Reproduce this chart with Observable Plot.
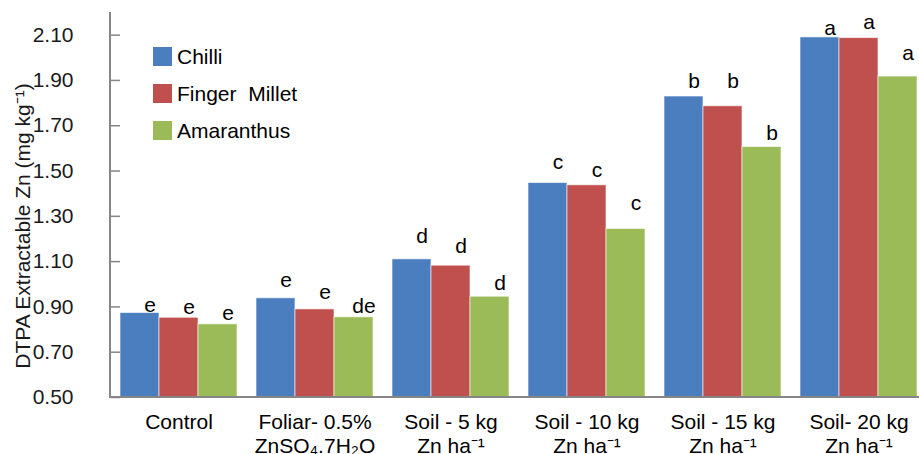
<!DOCTYPE html>
<html>
<head>
<meta charset="utf-8">
<script src="https://cdn.jsdelivr.net/npm/d3@7"></script>
<script src="https://cdn.jsdelivr.net/npm/@observablehq/plot@0.6"></script>
<style>
  html, body { margin: 0; padding: 0; background: #fff; }
  #wrap { position: relative; width: 919px; height: 454px; overflow: hidden; font-family: "Liberation Sans", Arial, sans-serif; }
  #legend { position: absolute; left: 153px; top: 38px; font-size: 21px; color: #000; }
  #legend .row { display: flex; align-items: center; height: 37px; }
  #legend .sw { width: 19px; height: 19px; margin-right: 5px; }
  #ylab { position: absolute; left: 22px; top: 226px; transform: translate(-50%, -50%) rotate(-90deg); white-space: nowrap; font-size: 21px; color: #1a1a1a; }
</style>
</head>
<body>
<div id="wrap"></div>
<script>
const groups = ["Control", "Foliar", "Soil5", "Soil10", "Soil15", "Soil20"];
const groupLabels = ["Control", "Foliar- 0.5%\nZnSO₄.7H₂O", "Soil - 5 kg\nZn ha⁻¹", "Soil - 10 kg\nZn ha⁻¹", "Soil - 15 kg\nZn ha⁻¹", "Soil- 20 kg\nZn ha⁻¹"];
const series = ["Chilli", "Finger Millet", "Amaranthus"];
const colors = ["#4A7EBF", "#C0504D", "#9BBB59"];

const chilli       = [0.873, 0.938, 1.110, 1.447, 1.829, 2.090];
const fingerMillet = [0.852, 0.889, 1.082, 1.437, 1.786, 2.087];
const amaranthus   = [0.823, 0.854, 0.945, 1.244, 1.606, 1.917];

// letters of significance and the heights they sit at (mean + SE)
const lettersChilli       = ["e", "e", "d", "c", "b", "a"];
const lettersFingerMillet = ["e", "e", "d", "c", "b", "a"];
const lettersAmaranthus   = ["e", "de", "d", "c", "b", "a"];
const topChilli       = [0.907, 1.017, 1.212, 1.539, 1.897, 2.131];
const topFingerMillet = [0.899, 0.965, 1.167, 1.503, 1.897, 2.157];
const topAmaranthus   = [0.871, 0.902, 1.004, 1.357, 1.667, 2.020];

const yTicks = [0.5, 0.7, 0.9, 1.1, 1.3, 1.5, 1.7, 1.9, 2.1];
const yLabel = "DTPA Extractable Zn (mg kg⁻¹)";

const valuesBySeries = [chilli, fingerMillet, amaranthus];
const lettersBySeries = [lettersChilli, lettersFingerMillet, lettersAmaranthus];
const topsBySeries = [topChilli, topFingerMillet, topAmaranthus];

const rows = [];
groups.forEach((g, gi) => {
  series.forEach((s, si) => {
    rows.push({group: g, series: s, value: valuesBySeries[si][gi], letter: lettersBySeries[si][gi], top: topsBySeries[si][gi]});
  });
});

const labelOf = new Map(groups.map((g, i) => [g, groupLabels[i]]));
const W = 919, H = 454;

const chart = Plot.plot({
  width: W,
  height: H,
  marginLeft: 110,
  marginRight: 0,
  marginTop: 12,
  marginBottom: 57,
  style: {fontFamily: "'Liberation Sans', Arial, sans-serif", fontSize: "21px", background: "#fff", overflow: "visible"},
  fx: {domain: groups, range: [109.4, 926.6], paddingInner: 0.14, paddingOuter: 0.07, label: null, axis: null},
  x: {domain: series, padding: 0, axis: null},
  y: {domain: [0.5, 2.2], label: null},
  color: {domain: series, range: colors},
  marks: [
    Plot.barY(rows, {fx: "group", x: "series", y1: 0.5, y2: "value", fill: "series", stroke: "#fff", strokeOpacity: 0.6, strokeWidth: 1}),
    Plot.text(rows, {fx: "group", x: "series", y: "top", text: "letter", dx: 10, fontSize: 21, fill: "#000", lineAnchor: "middle"}),
    Plot.axisY({ticks: yTicks, tickSize: 9, text: null, stroke: "#868686", strokeWidth: 1.5, label: null}),
    Plot.axisY({ticks: yTicks, tickFormat: d => d.toFixed(2), tickSize: 0, fill: "#1a1a1a", fontSize: 21, label: null}),
    Plot.axisFx({anchor: "bottom", tickFormat: d => labelOf.get(d), tickSize: 0, tickPadding: 15, fontSize: 21, fill: "#000", lineHeight: 1.12, label: null})
  ]
});

// axis lines through the library's scales
const ys = chart.scale("y");
const svg = d3.select(chart);
svg.append("line")
  .attr("x1", 110).attr("x2", W)
  .attr("y1", ys.apply(0.5)).attr("y2", ys.apply(0.5))
  .attr("stroke", "#868686").attr("stroke-width", 2);
svg.append("line")
  .attr("x1", 110).attr("x2", 110)
  .attr("y1", ys.apply(2.2)).attr("y2", ys.apply(0.5) + 1)
  .attr("stroke", "#868686").attr("stroke-width", 2);

const wrap = document.getElementById("wrap");
wrap.appendChild(chart);

// right-align y tick labels so they end 19px before the tick marks
svg.selectAll('g[aria-label="y-axis tick label"]').each(function () {
  const bb = this.getBBox();
  const shift = 82 - (bb.x + bb.width);
  const t = this.getAttribute("transform") || "";
  this.setAttribute("transform", (t + ` translate(${shift},0)`).trim());
});

const yl = document.createElement("div");
yl.id = "ylab";
yl.textContent = yLabel;
wrap.appendChild(yl);

const legend = document.createElement("div");
legend.id = "legend";
series.forEach((s, i) => {
  const row = document.createElement("div");
  row.className = "row";
  const sw = document.createElement("div");
  sw.className = "sw";
  sw.style.background = colors[i];
  const t = document.createElement("span");
  t.textContent = s === "Finger Millet" ? "Finger\u00a0 Millet" : s;
  row.appendChild(sw); row.appendChild(t);
  legend.appendChild(row);
});
wrap.appendChild(legend);
</script>
</body>
</html>
